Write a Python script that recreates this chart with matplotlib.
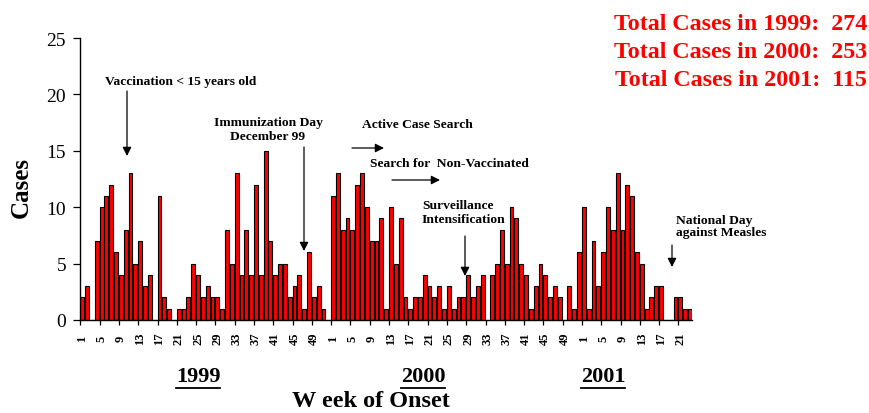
import matplotlib
matplotlib.use('Agg')
import matplotlib.pyplot as plt
from matplotlib.lines import Line2D
import numpy as np

# ---- data (weekly measles cases) ----
years = ['1999', '2000', '2001']
cases_1999 = [2, 3, 0, 7, 10, 11, 12, 6, 4, 8, 13, 5, 7, 3, 4, 0, 11, 2, 1, 0,
              1, 1, 2, 5, 4, 2, 3, 2, 2, 1, 8, 5, 13, 4, 8, 4, 12, 4, 15, 7,
              4, 5, 5, 2, 3, 4, 1, 6, 2, 3, 1, 0]
cases_2000 = [11, 13, 8, 9, 8, 12, 13, 10, 7, 7, 9, 1, 10, 5, 9, 2, 1, 2, 2, 4,
              3, 2, 3, 1, 3, 1, 2, 2, 4, 2, 3, 4, 0, 4, 5, 8, 5, 10, 9, 5,
              4, 1, 3, 5, 4, 2, 3, 2, 0, 3, 1, 6]
cases_2001 = [10, 1, 7, 3, 6, 10, 8, 13, 8, 12, 11, 6, 5, 1, 2, 3, 3, 0, 0, 2,
              2, 1, 1]
totals = [274, 253, 115]
y_ticks = [0, 5, 10, 15, 20, 25]

plt.rcParams['font.family'] = ['Liberation Serif', 'DejaVu Serif']

series = [cases_1999, cases_2000, cases_2001]
values = cases_1999 + cases_2000 + cases_2001
n = len(values)
x = np.arange(n)

W, H = 869, 414
fig = plt.figure(figsize=(W / 100, H / 100), dpi=100)
ax = fig.add_axes([79.9 / W, 1 - 321 / H, 612.5 / W, 282 / H])

ax.bar(x, values, width=0.8, color='#ff0000', edgecolor='black', linewidth=0.8)
ax.set_xlim(-0.5, n - 0.5)
ax.set_ylim(0, 25)
ax.set_yticks(y_ticks)
ax.tick_params(axis='y', labelsize=14, length=5, width=0.9, pad=5)
for s in ['top', 'right']:
    ax.spines[s].set_visible(False)
for s in ['left', 'bottom']:
    ax.spines[s].set_linewidth(1.0)

pos, labs = [], []
offset = 0
for vals in series:
    for w in range(1, len(vals) + 1, 4):
        pos.append(offset + w - 1)
        labs.append(str(w))
    offset += len(vals)
ax.set_xticks(pos)
ax.set_xticklabels(labs, rotation=90, fontweight='bold', fontsize=9, va='center')
ax.tick_params(axis='x', which='major', length=0, pad=13)
ax.set_xticks([p - 0.4 for p in pos], minor=True)
ax.tick_params(axis='x', which='minor', length=3.5, width=0.9, direction='out')


def fx(px):
    return px / W


def fy(py):
    return 1 - py / H


# y label
fig.text(fx(21), fy(188), 'Cases', rotation=90, fontsize=18, fontweight='bold',
         ha='center', va='center')

# totals
for i, (yr, tot) in enumerate(zip(years, totals)):
    fig.text(fx(867), fy(24 + 28.5 * i), f'Total Cases in {yr}:  {tot}',
             color='#ff0000', fontsize=17.3, fontweight='bold', ha='right', va='center')

# year labels with underline
year_x = [198, 423, 603]
year_texts = []
for yr, xc in zip(years, year_x):
    t = fig.text(fx(xc), fy(377), yr, fontsize=16, fontweight='bold',
                 ha='center', va='center')
    year_texts.append(t)

fig.text(fx(371), fy(402), 'W eek of Onset', fontsize=17.5, fontweight='bold',
         ha='center', va='center')

ann_fs = 9.7
fig.text(fx(105), fy(82), 'Vaccination < 15 years old', fontsize=ann_fs,
         fontweight='bold', ha='left', va='center')
fig.text(fx(268), fy(130), 'Immunization Day\nDecember 99', fontsize=ann_fs,
         fontweight='bold', ha='center', va='center', multialignment='center',
         linespacing=1.15)
fig.text(fx(362), fy(125), 'Active Case Search', fontsize=ann_fs,
         fontweight='bold', ha='left', va='center')
fig.text(fx(370), fy(164), 'Search for  Non-Vaccinated', fontsize=ann_fs,
         fontweight='bold', ha='left', va='center')
fig.text(fx(422), fy(213), 'Surveillance\nIntensification', fontsize=ann_fs,
         fontweight='bold', ha='left', va='center', linespacing=1.15)
fig.text(fx(676), fy(227.5), 'National Day\nagainst Measles', fontsize=ann_fs,
         fontweight='bold', ha='left', va='center', linespacing=1.0)

arrows = [((127, 92), (127, 157)),
          ((304, 148), (304, 252)),
          ((352, 149), (384, 149)),
          ((392, 181), (440, 181)),
          ((465, 237), (465, 277)),
          ((672, 246), (672, 268))]
for (x0, y0), (x1, y1) in arrows:
    fig.add_artist(matplotlib.patches.FancyArrowPatch(
        (fx(x0), fy(y0)), (fx(x1), fy(y1)), transform=fig.transFigure,
        arrowstyle='-|>', mutation_scale=13, color='black', lw=0.9,
        shrinkA=0, shrinkB=0))

fig.canvas.draw()
r = fig.canvas.get_renderer()
for t in year_texts:
    bb = t.get_window_extent(r)
    yl = bb.y0 - 2
    fig.add_artist(Line2D([bb.x0 / W, bb.x1 / W], [yl / H, yl / H],
                          transform=fig.transFigure, color='black', lw=1.3))

fig.savefig('out.png', dpi=100)
